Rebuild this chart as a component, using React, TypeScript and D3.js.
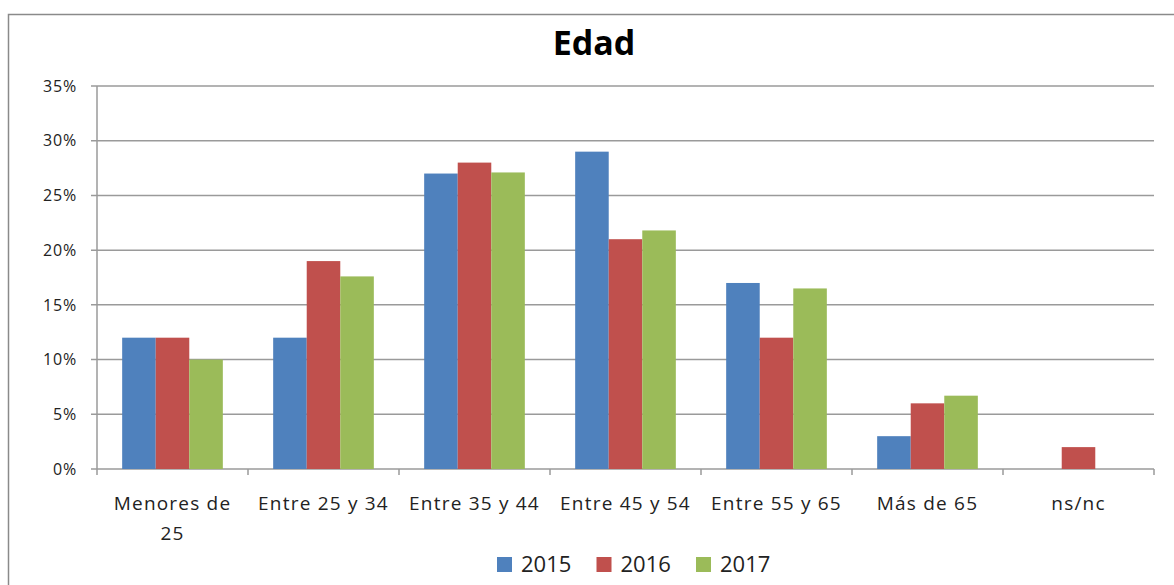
import React from 'react';
import * as d3 from 'd3';

const categories = ['Menores de 25', 'Entre 25 y 34', 'Entre 35 y 44', 'Entre 45 y 54', 'Entre 55 y 65', 'Más de 65', 'ns/nc'];
const seriesNames = ['2015', '2016', '2017'];
const values2015 = [12, 12, 27, 29, 17, 3, null];
const values2016 = [12, 19, 28, 21, 12, 6, 2];
const values2017 = [10, 17.6, 27.1, 21.8, 16.5, 6.7, null];
const yTicks = [0, 5, 10, 15, 20, 25, 30, 35];
const colors = ['#4F81BD', '#C0504D', '#9BBB59'];

const W = 1174, H = 585;
const margin = {left: 97, top: 86, right: 20, bottom: 116};
const font = "'Open Sans', 'DejaVu Sans', sans-serif";

export default function App() {
  const series = [values2015, values2016, values2017];
  const plotRight = 1154;
  const plotBottom = 469;

  const x = d3.scaleBand<string>().domain(categories).range([margin.left, plotRight]).paddingInner(0).paddingOuter(0);
  // excel gap width 150% -> 0.75 bar each side
  const inner = d3.scaleBand<string>().domain(seriesNames).range([0, x.bandwidth()]).paddingInner(0).paddingOuter(0.75);
  const y = d3.scaleLinear().domain([0, 35]).range([plotBottom, margin.top]);

  const wrap = (c: string) => (c === 'Menores de 25' ? ['Menores de', '25'] : [c]);

  return (
    <svg width={W} height={H} style={{position: 'absolute', left: 0, top: 0, background: '#fff'}}>
      <rect x={8.5} y={14.5} width={W + 10} height={H + 10} fill="#fff" stroke="#8a8a8a" strokeWidth={1.5} />
      <text x={594} y={55} textAnchor="middle" fontFamily={font} fontWeight="bold" fontSize={34} fill="#000">Edad</text>

      {yTicks.map(t => (
        <g key={t}>
          <line x1={margin.left - 6} x2={plotRight} y1={y(t)} y2={y(t)} stroke="#9a9a9a" strokeWidth={1.5} />
          <text x={77} y={y(t)} dy="0.36em" textAnchor="end" fontFamily={font} fontSize={16} letterSpacing={0.8} fill="#222">{t}%</text>
        </g>
      ))}
      <line x1={margin.left} x2={margin.left} y1={margin.top} y2={plotBottom + 6} stroke="#9a9a9a" strokeWidth={1.5} />
      {categories.map((c, i) => (
        <line key={'t' + i} x1={(x(c) as number) + x.bandwidth()} x2={(x(c) as number) + x.bandwidth()} y1={plotBottom} y2={plotBottom + 6} stroke="#9a9a9a" strokeWidth={1.5} />
      ))}

      {series.map((vals, si) =>
        vals.map((v, ci) =>
          v == null ? null : (
            <rect
              key={si + '-' + ci}
              x={(x(categories[ci]) as number) + (inner(seriesNames[si]) as number)}
              y={y(v)}
              width={inner.bandwidth()}
              height={plotBottom - y(v)}
              fill={colors[si]}
            />
          )
        )
      )}

      {categories.map(c =>
        wrap(c).map((line, li) => (
          <text key={c + li} x={(x(c) as number) + x.bandwidth() / 2} y={510 + li * 30} textAnchor="middle" fontFamily={font} fontSize={19} letterSpacing={1.2} fill="#222">{line}</text>
        ))
      )}

      {seriesNames.map((s, i) => (
        <g key={s} transform={`translate(${497 + i * 99.5},557)`}>
          <rect x={0} y={0} width={15} height={15} fill={colors[i]} />
          <text x={24} y={15} fontFamily={font} fontSize={22} fill="#222">{s}</text>
        </g>
      ))}
    </svg>
  );
}
